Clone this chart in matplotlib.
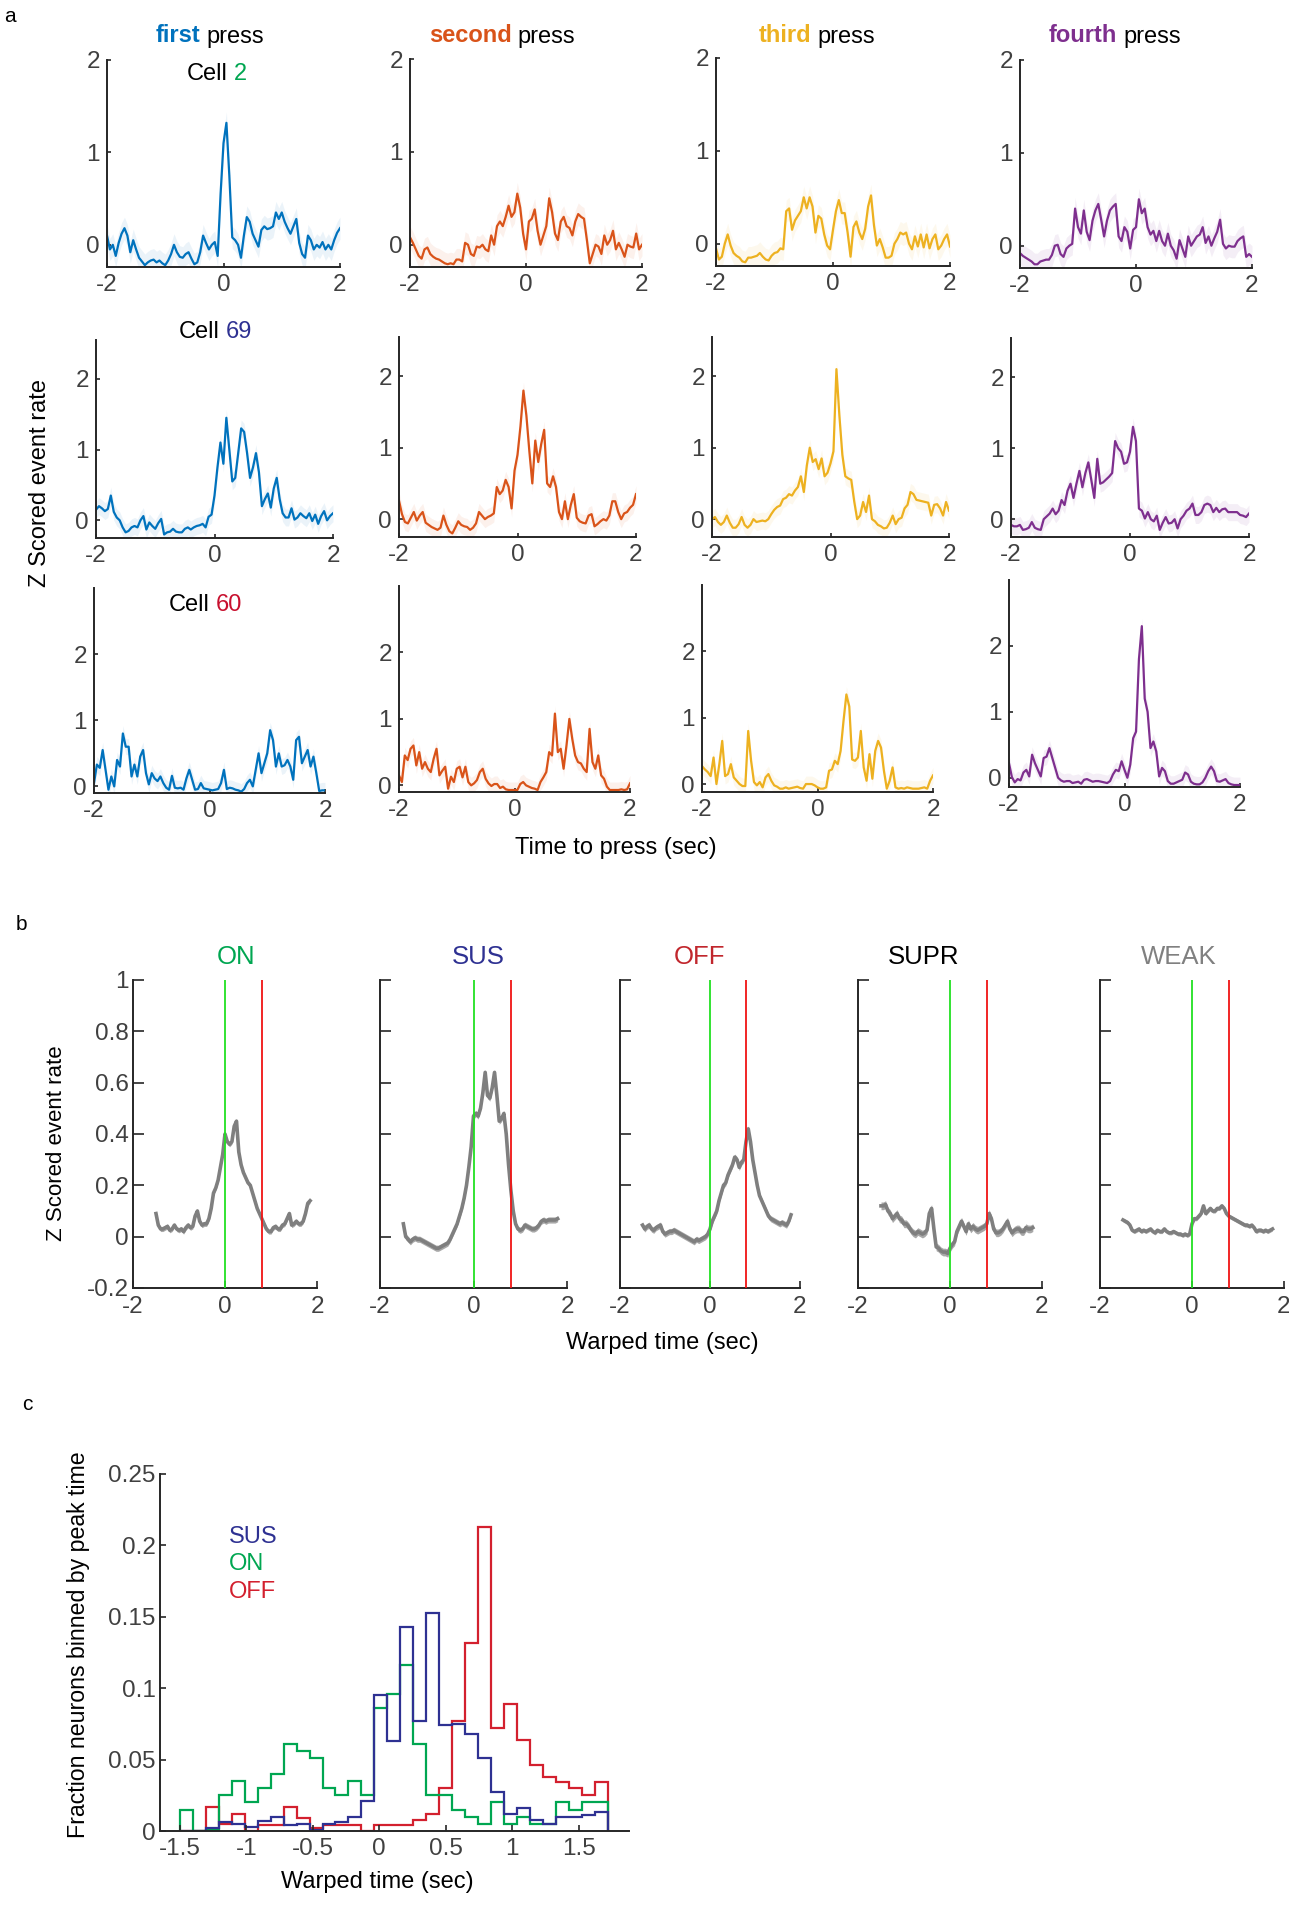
import numpy as np
import matplotlib
matplotlib.use('Agg')
import matplotlib.pyplot as plt
from matplotlib.offsetbox import TextArea, HPacker, AnchoredOffsetbox

plt.rcParams['font.family'] = ['Liberation Sans', 'DejaVu Sans']
plt.rcParams['axes.unicode_minus'] = False

W, H = 1289, 1920

# ---------------- panel a: z-scored event rate, 0.05 s bins, -2..2 s
a_t0, a_dt = -2.0, 0.05
press_names = ['first', 'second', 'third', 'fourth']
press_colors = ['#0072BD', '#D95319', '#EDB120', '#7E2F8E']
cell_ids = ['2', '69', '60']
cell_colors = ['#00A651', '#2E3192', '#C8102E']

cell2_p1 = [0.10, -0.05, 0.0, -0.12, 0.02, 0.12, 0.18, 0.10, -0.08, 0.05,
            -0.05, -0.14, -0.18, -0.22, -0.19, -0.17, -0.16, -0.19, -0.17, -0.20,
            -0.22, -0.17, -0.10, 0.0, -0.08, -0.13, -0.14, -0.10, -0.08, -0.15,
            -0.21, -0.19, -0.08, 0.10, 0.02, -0.05, 0.0, 0.03, -0.12, 0.55,
            1.10, 1.32, 0.75, 0.08, 0.05, 0.0, -0.14, 0.10, 0.30, 0.25,
            0.12, 0.05, -0.02, 0.16, 0.20, 0.17, 0.18, 0.20, 0.35, 0.28,
            0.35, 0.25, 0.18, 0.12, 0.20, 0.28, 0.02, -0.10, -0.14, 0.10,
            0.05, -0.05, 0.0, -0.03, 0.03, -0.05, 0.0, -0.05, 0.05, 0.13,
            0.18]
cell2_p2 = [0.08, 0.02, -0.05, -0.12, -0.15, -0.05, -0.03, -0.10, -0.13, -0.15,
            -0.16, -0.18, -0.20, -0.21, -0.20, -0.21, -0.16, -0.16, -0.18, 0.02,
            0.0, -0.10, -0.12, -0.02, -0.03, 0.0, -0.05, -0.07, 0.10, 0.0,
            0.20, 0.25, 0.20, 0.30, 0.42, 0.30, 0.35, 0.55, 0.40, 0.12,
            -0.05, 0.25, 0.28, 0.38, 0.15, 0.0, 0.10, 0.20, 0.50, 0.35,
            0.12, 0.05, 0.25, 0.30, 0.20, 0.18, 0.10, 0.25, 0.33, 0.30,
            0.28, 0.05, -0.20, -0.10, 0.0, -0.02, -0.10, 0.10, 0.0, 0.05,
            0.15, -0.05, 0.02, -0.05, -0.13, 0.0, -0.02, -0.03, 0.12, -0.05,
            0.0]
cell2_p3 = [-0.05, -0.17, -0.14, 0.0, 0.10, -0.02, -0.10, -0.13, -0.15, -0.19,
            -0.20, -0.15, -0.15, -0.14, -0.13, -0.10, -0.14, -0.17, -0.18, -0.13,
            -0.10, -0.09, -0.05, -0.06, 0.35, 0.38, 0.15, 0.25, 0.30, 0.35,
            0.50, 0.38, 0.50, 0.40, 0.12, 0.30, 0.27, 0.10, -0.02, -0.06,
            0.15, 0.35, 0.47, 0.33, 0.33, 0.12, -0.14, 0.18, 0.24, 0.12,
            0.05, 0.16, 0.40, 0.52, 0.20, -0.02, 0.05, -0.04, -0.15, -0.15,
            -0.13, 0.0, 0.05, 0.12, 0.10, 0.12, 0.0, -0.06, 0.08, -0.03,
            0.10, -0.04, 0.10, -0.05, 0.05, 0.10, -0.06, -0.02, 0.05, 0.10,
            -0.03]
cell2_p4 = [-0.08, -0.11, -0.13, -0.15, -0.17, -0.20, -0.20, -0.17, -0.16, -0.15,
            -0.15, -0.10, 0.0, 0.01, -0.09, -0.12, -0.03, 0.0, 0.02, 0.40,
            0.20, 0.13, 0.38, 0.15, 0.06, 0.27, 0.38, 0.45, 0.28, 0.10,
            0.27, 0.38, 0.42, 0.45, 0.10, 0.05, 0.20, 0.15, -0.03, 0.17,
            0.20, 0.50, 0.35, 0.40, 0.20, 0.12, 0.16, 0.05, 0.16, 0.05,
            0.0, 0.13, 0.0, -0.05, -0.14, 0.06, -0.03, -0.12, 0.10, 0.0,
            0.05, 0.10, 0.12, 0.20, 0.03, 0.10, 0.0, 0.08, 0.15, 0.28,
            0.02, -0.03, 0.0, -0.01, -0.01, 0.05, 0.08, 0.10, -0.12, -0.09,
            -0.12]

cell69_p1 = [0.15, 0.20, 0.17, 0.13, 0.16, 0.35, 0.12, 0.04, 0.0, -0.10,
             -0.17, -0.15, -0.10, -0.08, -0.10, 0.0, 0.06, -0.13, -0.03, -0.08,
             -0.12, -0.04, 0.02, -0.20, -0.17, -0.16, -0.12, -0.16, -0.17, -0.17,
             -0.12, -0.10, -0.13, -0.10, -0.08, -0.07, -0.05, -0.10, 0.05, 0.08,
             0.35, 0.75, 1.10, 0.80, 1.45, 1.00, 0.55, 0.60, 0.95, 1.30,
             1.25, 0.95, 0.60, 0.75, 0.95, 0.68, 0.20, 0.30, 0.38, 0.18,
             0.45, 0.60, 0.30, 0.10, 0.04, 0.04, 0.17, 0.01, 0.04, 0.10,
             0.06, 0.03, 0.10, -0.01, 0.08, -0.05, 0.06, 0.13, 0.0, 0.06,
             0.10]
cell69_p2 = [0.26, 0.07, -0.04, -0.06, 0.02, 0.10, -0.02, 0.05, 0.10, -0.05,
             -0.08, -0.11, -0.13, -0.15, -0.12, 0.05, -0.08, -0.17, -0.20, -0.12,
             -0.03, -0.08, -0.10, -0.11, -0.15, -0.12, -0.06, 0.10, 0.05, 0.0,
             0.03, 0.05, 0.08, 0.45, 0.35, 0.40, 0.55, 0.45, 0.15, 0.68,
             0.90, 1.30, 1.80, 1.45, 0.95, 0.50, 1.10, 0.80, 1.05, 1.25,
             0.50, 0.45, 0.60, 0.45, 0.10, 0.0, 0.25, 0.0, 0.20, 0.35,
             0.02, -0.03, -0.05, -0.06, 0.05, 0.07, -0.10, -0.07, -0.03, 0.0,
             -0.02, 0.05, 0.25, 0.25, 0.10, 0.0, 0.08, 0.10, 0.16, 0.20,
             0.35]
cell69_p3 = [0.0, 0.03, -0.04, -0.08, -0.04, 0.05, -0.05, -0.12, -0.12, -0.07,
             0.03, -0.08, -0.12, -0.08, 0.0, -0.04, -0.03, -0.02, -0.03, 0.0,
             0.07, 0.13, 0.17, 0.19, 0.28, 0.30, 0.35, 0.33, 0.40, 0.45,
             0.60, 0.38, 0.75, 1.00, 0.80, 0.84, 0.70, 0.85, 0.60, 0.65,
             0.78, 0.95, 2.10, 1.45, 0.90, 0.60, 0.57, 0.55, 0.25, 0.0,
             0.05, 0.24, 0.10, 0.33, 0.0, -0.03, -0.08, -0.10, -0.13, -0.12,
             -0.05, 0.05, -0.07, 0.0, 0.02, 0.15, 0.20, 0.38, 0.35, 0.27,
             0.26, 0.25, 0.24, 0.23, 0.05, 0.20, 0.21, 0.15, 0.05, 0.24,
             0.12]
cell69_p4 = [-0.08, -0.10, -0.10, -0.08, -0.15, -0.14, -0.12, -0.04, -0.12, -0.14,
             -0.15, 0.0, 0.04, 0.08, 0.15, 0.07, 0.12, 0.27, 0.20, 0.40,
             0.50, 0.30, 0.50, 0.68, 0.45, 0.65, 0.80, 0.55, 0.30, 0.85,
             0.50, 0.52, 0.56, 0.60, 0.65, 1.10, 1.00, 0.95, 0.78, 0.80,
             0.95, 1.30, 1.10, 0.15, 0.12, 0.01, 0.10, 0.0, -0.03, 0.05,
             -0.15, -0.05, 0.03, -0.06, -0.05, 0.0, -0.13, 0.0, 0.05, 0.12,
             0.15, 0.22, 0.06, 0.06, 0.10, 0.20, 0.22, 0.20, 0.10, 0.16,
             0.10, 0.14, 0.15, 0.10, 0.10, 0.10, 0.10, 0.06, 0.05, 0.03,
             0.08]

cell60_p1 = [0.05, 0.33, 0.28, 0.55, 0.25, -0.05, 0.15, 0.0, 0.40, 0.30,
             0.80, 0.60, 0.60, 0.15, 0.33, 0.15, 0.45, 0.55, 0.20, 0.03,
             0.20, 0.12, 0.08, 0.15, 0.05, -0.02, -0.05, 0.16, -0.02, -0.03,
             -0.02, -0.05, 0.12, 0.25, 0.10, -0.05, -0.04, 0.05, -0.03, -0.04,
             -0.05, -0.06, -0.05, -0.04, 0.05, 0.25, -0.04, -0.02, -0.03, -0.05,
             -0.06, -0.08, -0.04, 0.05, 0.10, 0.0, 0.25, 0.50, 0.20, 0.35,
             0.50, 0.85, 0.70, 0.30, 0.50, 0.30, 0.32, 0.40, 0.30, 0.10,
             0.70, 0.75, 0.35, 0.45, 0.55, 0.30, 0.45, 0.20, -0.07, -0.06,
             -0.06]
cell60_p2 = [0.15, 0.05, 0.45, 0.38, 0.55, 0.60, 0.30, 0.50, 0.25, 0.35,
             0.25, 0.20, 0.40, 0.55, 0.15, 0.22, 0.28, -0.05, 0.13, 0.05,
             0.25, 0.28, 0.12, 0.28, 0.05, 0.0, 0.03, 0.08, 0.20, 0.25,
             0.10, 0.03, -0.01, 0.02, 0.02, -0.04, -0.02, -0.06, -0.07, -0.07,
             -0.07, -0.07, 0.02, 0.05, 0.0, -0.02, -0.04, -0.05, -0.07, 0.05,
             0.12, 0.20, 0.50, 0.45, 1.08, 0.50, 0.55, 0.25, 0.60, 1.00,
             0.70, 0.45, 0.35, 0.33, 0.25, 0.20, 0.85, 0.35, 0.25, 0.45,
             0.15, 0.10, -0.02, -0.07, -0.07, -0.07, -0.07, -0.06, -0.07, -0.06,
             0.03]
cell60_p3 = [0.27, 0.22, 0.18, 0.12, 0.40, 0.0, 0.30, 0.65, 0.12, 0.15,
             0.30, 0.10, 0.05, 0.0, -0.03, -0.03, 0.80, 0.35, 0.03, -0.02,
             0.03, -0.05, 0.10, 0.15, 0.05, -0.02, -0.04, -0.07, -0.07, -0.05,
             -0.07, -0.06, -0.05, -0.04, -0.06, -0.07, 0.0, 0.0, 0.0, -0.02,
             -0.05, -0.07, -0.07, -0.05, 0.20, 0.22, 0.35, 0.30, 0.50, 0.95,
             1.35, 1.17, 0.37, 0.35, 0.40, 0.80, 0.25, 0.05, 0.45, 0.08,
             0.50, 0.65, 0.55, 0.20, -0.07, 0.05, 0.25, -0.05, -0.07, -0.06,
             -0.07, -0.05, -0.06, -0.07, -0.07, -0.07, -0.06, -0.05, -0.07, 0.05,
             0.13]
cell60_p4 = [0.22, 0.01, -0.07, -0.02, -0.04, 0.08, 0.12, 0.02, 0.35, 0.22,
             0.12, 0.02, 0.30, 0.32, 0.45, 0.30, 0.15, 0.0, -0.04, -0.06,
             -0.05, -0.05, -0.08, -0.07, -0.06, -0.09, -0.03, -0.02, -0.04, -0.06,
             -0.05, -0.05, -0.06, -0.07, -0.08, -0.05, 0.05, 0.12, 0.10, 0.25,
             0.12, 0.0, 0.20, 0.60, 0.70, 1.80, 2.30, 1.20, 1.00, 0.45,
             0.55, 0.40, 0.02, 0.15, 0.10, -0.05, -0.09, -0.09, -0.07, -0.05,
             -0.03, 0.08, 0.05, -0.06, -0.09, -0.10, -0.10, -0.07, 0.0, 0.10,
             0.17, 0.10, -0.05, -0.06, -0.04, -0.02, -0.08, -0.10, -0.11, -0.11,
             -0.11]

a_traces = [[cell2_p1, cell2_p2, cell2_p3, cell2_p4],
            [cell69_p1, cell69_p2, cell69_p3, cell69_p4],
            [cell60_p1, cell60_p2, cell60_p3, cell60_p4]]
a_sem = 0.12

# ---------------- panel b: population averages, warped time, 0.05 s bins from -1.5 s
b_t0, b_dt = -1.5, 0.05
b_names = ['ON', 'SUS', 'OFF', 'SUPR', 'WEAK']
b_colors = ['#00A651', '#2E3192', '#C1272D', '#000000', '#808080']
on_trace = [0.09, 0.045, 0.03, 0.03, 0.035, 0.04, 0.025, 0.03, 0.045, 0.03,
            0.025, 0.03, 0.02, 0.035, 0.045, 0.035, 0.04, 0.08, 0.10, 0.06,
            0.045, 0.05, 0.05, 0.07, 0.11, 0.17, 0.19, 0.22, 0.27, 0.32,
            0.40, 0.37, 0.36, 0.37, 0.43, 0.45, 0.33, 0.28, 0.25, 0.23,
            0.21, 0.20, 0.17, 0.14, 0.11, 0.09, 0.07, 0.05, 0.03, 0.02,
            0.02, 0.035, 0.04, 0.03, 0.03, 0.045, 0.05, 0.07, 0.09, 0.045,
            0.05, 0.06, 0.05, 0.05, 0.06, 0.09, 0.13, 0.14]
sus_trace = [0.05, 0.0, -0.01, -0.02, -0.01, -0.005, -0.01, -0.01, -0.015, -0.02,
             -0.025, -0.03, -0.035, -0.04, -0.045, -0.045, -0.04, -0.035, -0.03, -0.025,
             -0.01, 0.01, 0.03, 0.05, 0.08, 0.11, 0.15, 0.20, 0.27, 0.35,
             0.47, 0.48, 0.47, 0.50, 0.56, 0.64, 0.55, 0.54, 0.58, 0.64,
             0.55, 0.45, 0.46, 0.48, 0.40, 0.28, 0.18, 0.10, 0.05, 0.03,
             0.025, 0.03, 0.045, 0.04, 0.035, 0.03, 0.03, 0.035, 0.045, 0.06,
             0.065, 0.06, 0.065, 0.065, 0.065, 0.065, 0.07]
off_trace = [0.045, 0.03, 0.04, 0.045, 0.03, 0.025, 0.035, 0.04, 0.045, 0.02,
             0.01, 0.015, 0.02, 0.02, 0.025, 0.02, 0.015, 0.01, 0.005, 0.0,
             -0.005, -0.01, -0.015, -0.02, -0.01, -0.015, -0.01, -0.005, 0.0, 0.01,
             0.03, 0.06, 0.08, 0.10, 0.14, 0.17, 0.20, 0.21, 0.24, 0.26,
             0.28, 0.31, 0.30, 0.27, 0.29, 0.30, 0.37, 0.42, 0.37, 0.30,
             0.25, 0.20, 0.16, 0.14, 0.12, 0.10, 0.08, 0.07, 0.065, 0.06,
             0.055, 0.05, 0.055, 0.05, 0.045, 0.06, 0.085]
supr_trace = [0.12, 0.12, 0.125, 0.10, 0.09, 0.07, 0.08, 0.09, 0.07, 0.065,
              0.05, 0.05, 0.04, 0.025, 0.015, 0.01, 0.02, 0.015, 0.01, 0.015,
              0.025, 0.09, 0.11, 0.03, -0.04, -0.045, -0.055, -0.06, -0.06, -0.065,
              -0.045, -0.03, -0.02, 0.02, 0.04, 0.06, 0.04, 0.02, 0.05, 0.03,
              0.04, 0.03, 0.025, 0.03, 0.035, 0.04, 0.05, 0.09, 0.07, 0.03,
              0.015, 0.015, 0.02, 0.03, 0.045, 0.06, 0.03, 0.015, 0.025, 0.03,
              0.03, 0.02, 0.02, 0.035, 0.03, 0.03, 0.035]
weak_trace = [0.065, 0.06, 0.055, 0.045, 0.025, 0.02, 0.025, 0.03, 0.02, 0.025,
              0.02, 0.025, 0.03, 0.02, 0.015, 0.025, 0.02, 0.02, 0.03, 0.02,
              0.015, 0.015, 0.02, 0.015, 0.01, 0.01, 0.005, 0.01, 0.005, 0.01,
              0.05, 0.07, 0.07, 0.08, 0.09, 0.12, 0.09, 0.10, 0.11, 0.10,
              0.10, 0.11, 0.11, 0.12, 0.11, 0.09, 0.08, 0.075, 0.07, 0.065,
              0.06, 0.055, 0.05, 0.045, 0.045, 0.04, 0.045, 0.035, 0.02, 0.025,
              0.025, 0.02, 0.025, 0.02, 0.025, 0.03]
b_traces = [on_trace, sus_trace, off_trace, supr_trace, weak_trace]
b_sem = [0.01, 0.012, 0.012, 0.015, 0.008]
press_on, press_off = 0.0, 0.8

# ---------------- panel c: fraction of neurons binned by peak time
hist_lo, hist_hi, n_bins = -1.5, 1.72, 33
sus_frac = [0, 0, 0.002, 0.006, 0.005, 0.003, 0.007, 0.01, 0.004, 0.005,
            0.001, 0.005, 0.006, 0.01, 0.021, 0.095, 0.063, 0.143, 0.077, 0.153,
            0.074, 0.075, 0.068, 0.051, 0.027, 0.012, 0.016, 0.008, 0.005, 0.01,
            0.01, 0.011, 0.013]
on_frac = [0.015, 0, 0.001, 0.025, 0.035, 0.02, 0.03, 0.04, 0.061, 0.056,
           0.051, 0.03, 0.025, 0.035, 0.025, 0.086, 0.096, 0.116, 0.061, 0.025,
           0.025, 0.015, 0.01, 0.005, 0.02, 0.005, 0.01, 0.005, 0.005, 0.02,
           0.015, 0.02, 0.02]
off_frac = [0, 0, 0.017, 0.005, 0.012, 0, 0.004, 0.004, 0.017, 0.009,
            0.002, 0.004, 0.004, 0.004, 0, 0.004, 0.004, 0.004, 0.008, 0.012,
            0.03, 0.077, 0.132, 0.213, 0.072, 0.089, 0.064, 0.046, 0.038, 0.034,
            0.03, 0.025, 0.034]
c_names = ['SUS', 'ON', 'OFF']
c_colors = ['#2E3192', '#00A651', '#D3202E']

AX_COL = '#262626'
TICK_COL = '#404040'
TICK_SIZE = 17.5

fig = plt.figure(figsize=(W / 100, H / 100), dpi=100)


def add_ax(l, t, r, b):
    return fig.add_axes([l / W, 1 - b / H, (r - l) / W, (b - t) / H])


def style(ax, xlen=3, ylen=3, xpad=6, ypad=4):
    for s in ['top', 'right']:
        ax.spines[s].set_visible(False)
    for s in ['left', 'bottom']:
        ax.spines[s].set_color(AX_COL)
        ax.spines[s].set_linewidth(1.4)
    ax.tick_params(direction='in', width=1.2, color=AX_COL,
                   labelcolor=TICK_COL, labelsize=TICK_SIZE)
    ax.tick_params(axis='x', length=xlen, pad=xpad)
    ax.tick_params(axis='y', length=ylen, pad=ypad)


def two_tone(x, y, parts, size=15):
    boxes = [TextArea(s, textprops=dict(color=c, fontsize=size, fontweight=w))
             for s, c, w in parts]
    pack = HPacker(children=boxes, align='baseline', pad=0, sep=4.5)
    anc = AnchoredOffsetbox(loc='center', child=pack, pad=0, borderpad=0,
                            frameon=False, bbox_to_anchor=(x / W, 1 - y / H),
                            bbox_transform=fig.transFigure)
    fig.add_artist(anc)


def ftext(x, y, s, **kw):
    fig.text(x / W, 1 - y / H, s, **kw)


# ---------------- panel a
a_boxes = [[(107, 60, 340, 267), (410, 59, 642, 267), (716, 58, 950, 266), (1020, 60, 1252, 268)],
           [(96, 340, 333, 538), (399, 337, 636, 537), (712, 337, 949, 537), (1011, 338, 1249, 537)],
           [(94, 588, 325, 793), (399, 586, 630, 792), (702, 585, 933, 792), (1009, 580, 1240, 787)]]
a_ylims = [[(-0.24, 2.0)] * 4,
           [(-0.25, 2.55)] * 4,
           [(-0.1, 3.0), (-0.1, 3.0), (-0.12, 3.0), (-0.14, 3.0)]]

for r in range(3):
    for c in range(4):
        ax = add_ax(*a_boxes[r][c])
        v = np.array(a_traces[r][c])
        t = a_t0 + a_dt * np.arange(len(v))
        col = press_colors[c]
        ax.fill_between(t, v - a_sem, v + a_sem, color=col, alpha=0.08, lw=0)
        ax.plot(t, v, color=col, lw=1.6)
        ax.set_xlim(-2, 2)
        ax.set_ylim(*a_ylims[r][c])
        ax.set_xticks([-2, 0, 2])
        ax.set_xticklabels(['-2', '0', '2'])
        ax.set_yticks([0, 1, 2])
        ax.set_yticklabels(['0', '1', '2'])
        style(ax, xpad=5, ypad=5)

title_x = [210, 502, 817, 1115]
for c in range(4):
    two_tone(title_x[c], 36, [(press_names[c], press_colors[c], 'bold'),
                              ('press', 'black', 'normal')], size=17)

cell_pos = [(217, 74), (215, 332), (205, 605)]
for (x, y), cid, cc in zip(cell_pos, cell_ids, cell_colors):
    two_tone(x, y, [('Cell', 'black', 'normal'), (cid, cc, 'normal')], size=17)

ftext(10, 16, 'a', fontsize=15, ha='center', va='center')
ftext(40, 483, 'Z Scored event rate', fontsize=17, rotation=90, ha='center', va='center')
ftext(616, 848, 'Time to press (sec)', fontsize=17, ha='center', va='center')

# ---------------- panel b
b_lr = [(133, 317), (380, 567), (620, 800), (858, 1042), (1100, 1284)]
b_title_x = [236, 478, 699, 924, 1179]
for i, (l, r) in enumerate(b_lr):
    ax = add_ax(l, 980, r, 1288)
    v = np.array(b_traces[i])
    t = b_t0 + b_dt * np.arange(len(v))
    ax.fill_between(t, v - b_sem[i], v + b_sem[i], color='#A8A8A8', lw=0, zorder=2)
    ax.plot(t, v, color='#7F7F7F', lw=2.6, zorder=2.5)
    ax.axvline(press_on, color='#22E022', lw=1.3, zorder=3)
    ax.axvline(press_off, color='#F01414', lw=1.3, zorder=3)
    ax.set_xlim(-2, 2)
    ax.set_ylim(-0.2, 1.0)
    ax.set_xticks([-2, 0, 2])
    ax.set_xticklabels(['-2', '0', '2'])
    ax.set_yticks([-0.2, 0, 0.2, 0.4, 0.6, 0.8, 1.0])
    if i == 0:
        ax.set_yticklabels(['-0.2', '0', '0.2', '0.4', '0.6', '0.8', '1'])
    else:
        ax.set_yticklabels([])
    style(ax, xlen=5, ylen=8, xpad=6, ypad=3)
    ftext(b_title_x[i], 957, b_names[i], color=b_colors[i], fontsize=18.5,
          ha='center', va='center')

ftext(21, 925, 'b', fontsize=15, ha='center', va='center')
ftext(56, 1143, 'Z Scored event rate', fontsize=16, rotation=90, ha='center', va='center')
ftext(662, 1343, 'Warped time (sec)', fontsize=17, ha='center', va='center')

# ---------------- panel c
ax = add_ax(160, 1474, 629, 1831)
edges = np.linspace(hist_lo, hist_hi, n_bins + 1)
for vals, col in zip([off_frac, on_frac, sus_frac], [c_colors[2], c_colors[1], c_colors[0]]):
    ax.stairs(vals, edges, baseline=0, color=col, lw=1.6)
ax.set_xlim(-1.65, 1.88)
ax.set_ylim(0, 0.25)
ax.set_xticks([-1.5, -1, -0.5, 0, 0.5, 1, 1.5])
ax.set_xticklabels(['-1.5', '-1', '-0.5', '0', '0.5', '1', '1.5'])
ax.set_yticks([0, 0.05, 0.1, 0.15, 0.2, 0.25])
ax.set_yticklabels(['0', '0.05', '0.1', '0.15', '0.2', '0.25'])
style(ax, xlen=4, ylen=4, xpad=5, ypad=3)

for i, (name, col) in enumerate(zip(c_names, c_colors)):
    ftext(229, 1537 + 27.5 * i, name, color=col, fontsize=17, ha='left', va='center')

ftext(27, 1405, 'c', fontsize=15, ha='center', va='center')
ftext(79, 1645, 'Fraction neurons binned by peak time', fontsize=16.7, rotation=90,
      ha='center', va='center')
ftext(377, 1882, 'Warped time (sec)', fontsize=17, ha='center', va='center')

fig.savefig('out.png', dpi=100)
